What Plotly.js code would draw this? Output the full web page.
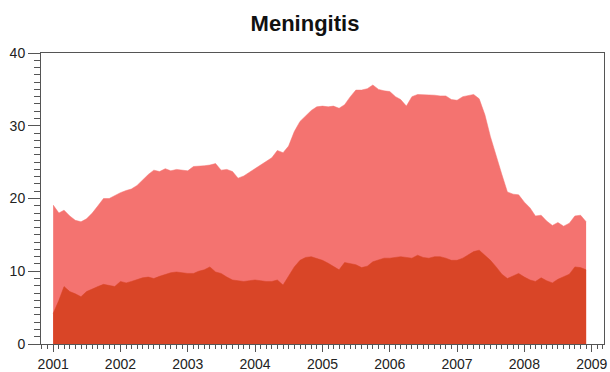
<!DOCTYPE html>
<html>
<head>
<meta charset="utf-8">
<script src="https://cdn.plot.ly/plotly-3.0.1.min.js"></script>
<style>html,body{margin:0;padding:0;background:#fff;}#chart{width:610px;height:372px;}</style>
</head>
<body>
<div id="chart"></div>
<script>
// Monthly values, Jan 2001 .. Dec 2008
const startYear = 2001;
const nYears = 8;
const tickYears = [2001, 2002, 2003, 2004, 2005, 2006, 2007, 2008, 2009];

const totalCases = [
  19.1, 18.0, 18.4, 17.6, 17.0, 16.8, 17.2, 18.0, 19.0, 20.0, 20.0, 20.4,
  20.8, 21.1, 21.3, 21.8, 22.6, 23.3, 23.9, 23.7, 24.1, 23.8, 24.0, 23.9,
  23.8, 24.4, 24.4, 24.5, 24.6, 24.8, 23.9, 24.0, 23.7, 22.8, 23.1, 23.6,
  24.0, 24.6, 25.1, 25.6, 26.6, 26.3, 27.2, 29.2, 30.6, 31.4, 32.1, 32.6,
  32.7, 32.6, 32.7, 32.4, 32.9, 34.0, 34.9, 34.9, 35.1, 35.6, 35.0, 34.8,
  34.7, 34.0, 33.6, 32.7, 34.0, 34.3, 34.3, 34.2, 34.2, 34.1, 34.1, 33.6,
  33.5, 34.0, 34.1, 34.3, 33.7, 31.5, 28.5, 25.8, 23.3, 20.9, 20.6, 20.5,
  19.5, 18.7, 17.6, 17.7, 16.9, 16.3, 16.7, 16.2, 16.6, 17.6, 17.7, 16.8
];

const subsetCases = [
  4.2, 6.0, 7.9, 7.2, 6.9, 6.5, 7.2, 7.6, 7.9, 8.2, 8.0, 7.9,
  8.6, 8.4, 8.6, 8.9, 9.1, 9.2, 9.0, 9.3, 9.6, 9.8, 9.9, 9.8,
  9.7, 9.7, 10.0, 10.2, 10.6, 9.9, 9.7, 9.2, 8.8, 8.7, 8.6, 8.7,
  8.8, 8.7, 8.6, 8.6, 8.8, 8.1, 9.3, 10.6, 11.5, 11.9, 12.0, 11.8,
  11.5, 11.1, 10.7, 10.2, 11.2, 11.0, 10.9, 10.5, 10.7, 11.3, 11.6, 11.8,
  11.8, 11.9, 12.0, 11.9, 11.8, 12.2, 11.9, 11.8, 12.0, 12.0, 11.8, 11.5,
  11.5, 11.8, 12.2, 12.7, 12.9, 12.2, 11.5, 10.6, 9.6, 9.0, 9.4, 9.7,
  9.2, 8.8, 8.6, 9.1, 8.7, 8.4, 8.9, 9.2, 9.6, 10.6, 10.5, 10.2
];

const months = [];
for (let y = startYear; y < startYear + nYears; y++) {
  for (let m = 1; m <= 12; m++) {
    months.push(y + '-' + String(m).padStart(2, '0') + '-01');
  }
}

const lightColor = '#f47370';
const darkColor = '#d94527';

const traces = [
  {x: months, y: totalCases, type: 'scatter', mode: 'lines', fill: 'tozeroy',
   fillcolor: lightColor, line: {color: lightColor, width: 0.5}, hoverinfo: 'x+y'},
  {x: months, y: subsetCases, type: 'scatter', mode: 'lines', fill: 'tozeroy',
   fillcolor: darkColor, line: {color: darkColor, width: 0.5}, hoverinfo: 'x+y'}
];

const axisColor = '#555';
const layout = {
  width: 610, height: 372,
  margin: {l: 41, r: 6, t: 53, b: 28, pad: 0},
  paper_bgcolor: '#fff', plot_bgcolor: '#fff',
  showlegend: false,
  font: {family: '"Liberation Sans", Arial, sans-serif', size: 14, color: '#222'},
  title: {text: 'Meningitis', x: 0.5, xref: 'container', y: 0.938, yanchor: 'middle',
          font: {family: '"Liberation Sans", Arial, sans-serif', size: 22, color: '#111', weight: 'bold'}},
  xaxis: {
    type: 'date',
    range: ['2000-10-27', '2009-03-08'],
    tickvals: tickYears.map(y => y + '-01-01'),
    ticktext: tickYears.map(String),
    ticks: 'outside', ticklen: 7, tickwidth: 1, tickcolor: axisColor,
    minor: {dtick: 'M1', tick0: '2001-01-01', ticks: 'outside', ticklen: 4, tickwidth: 1, tickcolor: axisColor, showgrid: false},
    showline: true, linecolor: axisColor, linewidth: 1, mirror: true,
    showgrid: false, zeroline: false,
    tickfont: {size: 14, color: '#222'}
  },
  yaxis: {
    range: [0, 40],
    tickvals: [0, 10, 20, 30, 40],
    ticks: 'outside', ticklen: 12, tickwidth: 1, tickcolor: axisColor,
    minor: {dtick: 1, tick0: 0, ticks: 'outside', ticklen: 6, tickwidth: 1, tickcolor: axisColor, showgrid: false},
    showline: true, linecolor: axisColor, linewidth: 1, mirror: true,
    showgrid: false, zeroline: false,
    tickfont: {size: 14, color: '#222'}
  }
};

Plotly.newPlot('chart', traces, layout, {displayModeBar: false, staticPlot: true});
</script>
</body>
</html>
